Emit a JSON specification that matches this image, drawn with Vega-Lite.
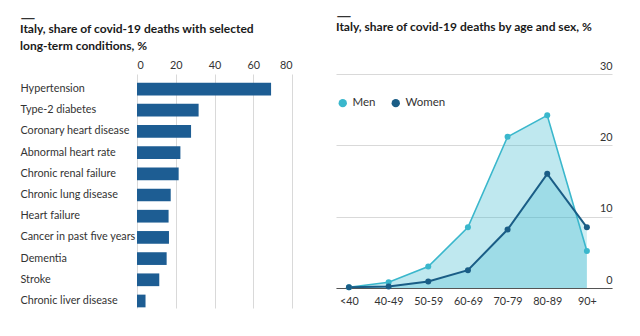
{
  "$schema": "https://vega.github.io/schema/vega-lite/v6.json",
  "background": "white",
  "padding": {"left": 20, "top": 6, "right": 27, "bottom": 5},
  "spacing": 44,
  "align": "none",
  "config": {
    "font": "Lato",
    "view": {"stroke": null},
    "title": {
      "anchor": "start",
      "frame": "bounds",
      "font": "Lato",
      "fontSize": 20,
      "fontWeight": "normal",
      "color": "#333333",
      "subtitleFont": "Lato",
      "subtitleFontSize": 12,
      "subtitleFontWeight": "bold",
      "subtitleColor": "#1a1a1a",
      "subtitleLineHeight": 17,
      "subtitlePadding": -4
    },
    "axis": {
      "labelFont": "Lato",
      "labelFontSize": 10.8,
      "labelColor": "#333333",
      "domain": false,
      "ticks": false,
      "tickSize": 0,
      "title": null,
      "gridColor": "#d9d9d9"
    },
    "legend": {
      "labelFont": "Lato",
      "labelFontSize": 11.5,
      "labelColor": "#333333"
    }
  },
  "hconcat": [
    {
      "width": 155,
      "height": 234,
      "title": {"text": "—", "subtitle": ["Italy, share of covid-19 deaths with selected", "long-term conditions, %"], "offset": 7},
      "data": {"values": [
        {"condition": "Hypertension", "share": 69.2},
        {"condition": "Type-2 diabetes", "share": 31.8},
        {"condition": "Coronary heart disease", "share": 27.9},
        {"condition": "Abnormal heart rate", "share": 22.4},
        {"condition": "Chronic renal failure", "share": 21.5},
        {"condition": "Chronic lung disease", "share": 17.4},
        {"condition": "Heart failure", "share": 16.3},
        {"condition": "Cancer in past five years", "share": 16.5},
        {"condition": "Dementia", "share": 15.3},
        {"condition": "Stroke", "share": 11.5},
        {"condition": "Chronic liver disease", "share": 4.4}
      ]},
      "mark": {"type": "bar", "color": "#1d5d93"},
      "encoding": {
        "y": {
          "field": "condition", "type": "nominal", "sort": null,
          "scale": {"paddingInner": 0.4, "paddingOuter": 0.22, "align": 0.93},
          "axis": {"labelAlign": "left", "labelPadding": 117, "grid": false, "labelLimit": 140}
        },
        "x": {
          "field": "share", "type": "quantitative",
          "scale": {"domain": [0, 80], "nice": false},
          "axis": {"orient": "top", "values": [0, 20, 40, 60, 80], "grid": true, "labelPadding": 4}
        }
      }
    },
    {
      "width": 276,
      "height": 214,
      "title": {"text": "—", "subtitle": "Italy, share of covid-19 deaths by age and sex, %", "offset": 27},
      "data": {"values": [
        {"age": "<40", "sex": "Men", "share": 0.1},
        {"age": "40-49", "sex": "Men", "share": 0.8},
        {"age": "50-59", "sex": "Men", "share": 3.0},
        {"age": "60-69", "sex": "Men", "share": 8.5},
        {"age": "70-79", "sex": "Men", "share": 21.2},
        {"age": "80-89", "sex": "Men", "share": 24.2},
        {"age": "90+", "sex": "Men", "share": 5.2},
        {"age": "<40", "sex": "Women", "share": 0.1},
        {"age": "40-49", "sex": "Women", "share": 0.2},
        {"age": "50-59", "sex": "Women", "share": 0.9},
        {"age": "60-69", "sex": "Women", "share": 2.5},
        {"age": "70-79", "sex": "Women", "share": 8.2},
        {"age": "80-89", "sex": "Women", "share": 16.0},
        {"age": "90+", "sex": "Women", "share": 8.5}
      ]},
      "encoding": {
        "x": {
          "field": "age", "type": "ordinal", "sort": null,
          "scale": {"type": "point", "padding": 0.48, "align": 0.34},
          "axis": {"labelAngle": 0, "domain": true, "domainColor": "#555555", "domainWidth": 1.2, "labelPadding": 7, "grid": false}
        },
        "y": {
          "field": "share", "type": "quantitative",
          "scale": {"domain": [0, 30], "nice": false},
          "axis": {"orient": "right", "values": [0, 10, 20, 30], "grid": true, "labelAlign": "right", "labelBaseline": "bottom", "labelPadding": 0, "labelOffset": -3}
        }
      },
      "layer": [
        {
          "transform": [{"filter": "datum.sex === 'Men'"}],
          "mark": {"type": "area", "color": "#37b6cc", "opacity": 0.32}
        },
        {
          "transform": [{"filter": "datum.sex === 'Women'"}],
          "mark": {"type": "area", "color": "#37b6cc", "opacity": 0.24}
        },
        {
          "transform": [{"filter": "datum.sex === 'Men'"}],
          "mark": {"type": "line", "color": "#3ab7cc", "strokeWidth": 1.6}
        },
        {
          "transform": [{"filter": "datum.sex === 'Women'"}],
          "mark": {"type": "line", "color": "#1a5d86", "strokeWidth": 2}
        },
        {
          "mark": {"type": "point", "filled": true, "size": 36, "opacity": 1},
          "encoding": {
            "color": {
              "field": "sex", "type": "nominal",
              "scale": {"domain": ["Men", "Women"], "range": ["#3ab7cc", "#1a5d86"]},
              "legend": {"title": null, "orient": "none", "legendX": 200, "legendY": 23, "direction": "horizontal", "symbolType": "circle", "symbolSize": 70, "columnPadding": 14, "labelOffset": 4}
            }
          }
        }
      ]
    }
  ]
}
